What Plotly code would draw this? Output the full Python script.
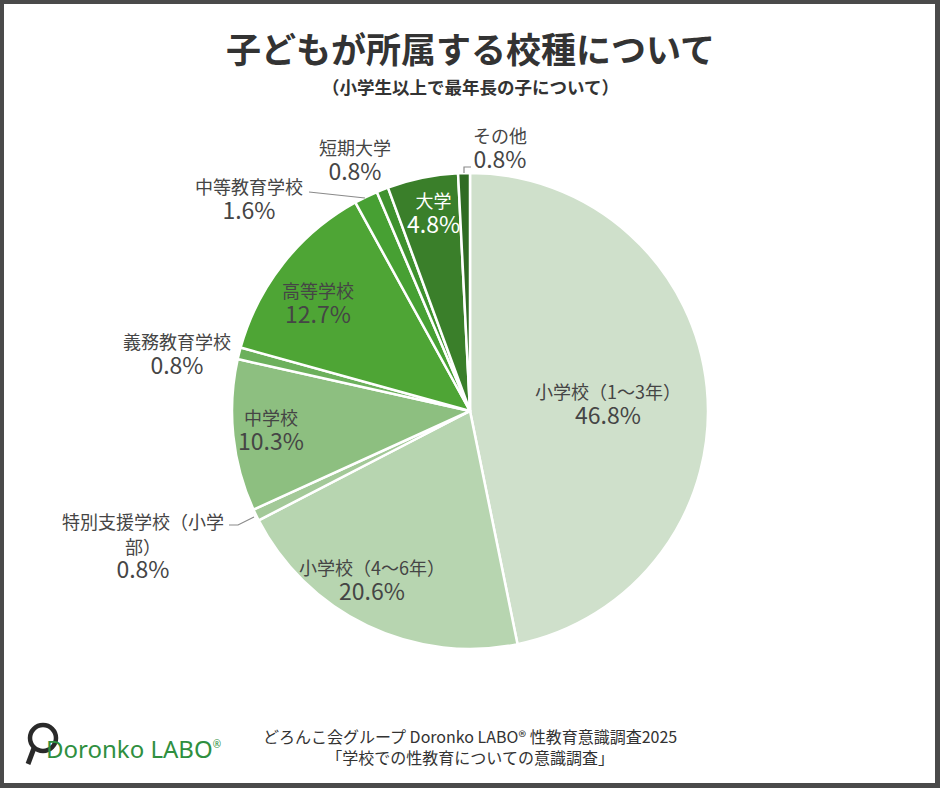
import plotly.graph_objects as go

# ---- data ----
categories = ["小学校（1～3年）", "小学校（4～6年）", "特別支援学校（小学部）", "中学校",
              "義務教育学校", "高等学校", "中等教育学校", "短期大学", "大学", "その他"]
values = [46.8, 20.6, 0.8, 10.3, 0.8, 12.7, 1.6, 0.8, 4.8, 0.8]
colors = ["#cfe0cb", "#b7d5b0", "#a3c998", "#8dbf80", "#6cb05c", "#4ea535",
          "#47a033", "#3f922e", "#3a7f2a", "#2f6b23"]

title_text = "子どもが所属する校種について"
subtitle_text = "（小学生以上で最年長の子について）"
footer_lines = ["どろんこ会グループ Doronko LABO® 性教育意識調査2025", "「学校での性教育についての意識調査」"]

W, H = 940, 788
FONT = "Noto Sans CJK JP"

# label layout: pixel centre of each label block
label_pos = [
    (608, 404), (372, 580), (143, 546), (271, 431), (177, 354),
    (318, 303), (249, 199), (355, 161), (433, 213), (500, 148),
]
name_wrap = {2: ["特別支援学校（小学", "部）"]}
label_colors = {8: "#ffffff"}

def px(x):
    return x / W

def py(y):
    return 1 - y / H

cx, cy, r = 470, 411, 238

fig = go.Figure()
fig.add_trace(go.Pie(
    labels=categories, values=values, sort=False, direction="clockwise", rotation=0,
    marker=dict(colors=colors, line=dict(color="#ffffff", width=2.5)),
    textinfo="none", hoverinfo="skip", showlegend=False,
    domain=dict(x=[px(cx - r), px(cx + r)], y=[py(cy + r), py(cy - r)]),
))

annotations = []
for i, (cat, val) in enumerate(zip(categories, values)):
    names = name_wrap.get(i, [cat])
    parts = [f"<span style='font-size:18px'>{n}</span>" for n in names]
    parts.append(f"<span style='font-size:23px'>{val:.1f}%</span>")
    x, y = label_pos[i]
    annotations.append(dict(
        x=px(x), y=py(y), xref="paper", yref="paper", text="<br>".join(parts),
        showarrow=False, xanchor="center", yanchor="middle", align="center", borderpad=0,
        font=dict(family=FONT, size=19, color=label_colors.get(i, "#454545"))))

annotations.append(dict(x=0.5, y=py(47), xref="paper", yref="paper", text=f"<b>{title_text}</b>",
                        showarrow=False, xanchor="center", yanchor="middle",
                        font=dict(family=FONT, size=35, color="#333333")))
annotations.append(dict(x=0.5, y=py(87), xref="paper", yref="paper", text=f"<b>{subtitle_text}</b>",
                        showarrow=False, xanchor="center", yanchor="middle",
                        font=dict(family=FONT, size=17.5, color="#333333")))
annotations.append(dict(x=px(470), y=py(746), xref="paper", yref="paper",
                        text="<br>".join(footer_lines), showarrow=False,
                        xanchor="center", yanchor="middle", align="center", borderpad=0,
                        font=dict(family=FONT, size=16, color="#333333")))
# logo text
annotations.append(dict(x=px(44), y=py(748), xref="paper", yref="paper",
                        text="Doronko LABO<sup><span style='font-size:10px'>®</span></sup>",
                        showarrow=False, xanchor="left", yanchor="middle",
                        font=dict(family="Noto Sans", size=24, color="#2f8f3f")))

shapes = [
    dict(type="rect", xref="paper", yref="paper", x0=px(4), x1=px(935), y0=py(783), y1=py(4),
         fillcolor="#ffffff", line=dict(width=0), layer="below"),
    # leader lines
    dict(type="path", xref="paper", yref="paper",
         path=f"M {px(464)},{py(173)} L {px(464)},{py(167)} L {px(471)},{py(167)}",
         line=dict(color="#8a8a8a", width=1.2)),
    dict(type="line", xref="paper", yref="paper", x0=px(309), y0=py(192), x1=px(365), y1=py(198),
         line=dict(color="#8a8a8a", width=1.2)),
    dict(type="path", xref="paper", yref="paper",
         path=f"M {px(229)},{py(525)} L {px(238)},{py(525)} L {px(254)},{py(517)}",
         line=dict(color="#8a8a8a", width=1.2)),
    # logo magnifier
    dict(type="circle", xref="paper", yref="paper", x0=px(30), x1=px(56), y0=py(751), y1=py(725),
         line=dict(color="#2a2a2a", width=4.5)),
    dict(type="line", xref="paper", yref="paper", x0=px(34), y0=py(748), x1=px(28), y1=py(764),
         line=dict(color="#2a2a2a", width=5)),
]

fig.update_layout(
    width=W, height=H, margin=dict(l=0, r=0, t=0, b=0),
    paper_bgcolor="#4a4a4a", plot_bgcolor="#ffffff",
    annotations=annotations, shapes=shapes,
    font=dict(family=FONT),
)
fig.write_html("out.html")
